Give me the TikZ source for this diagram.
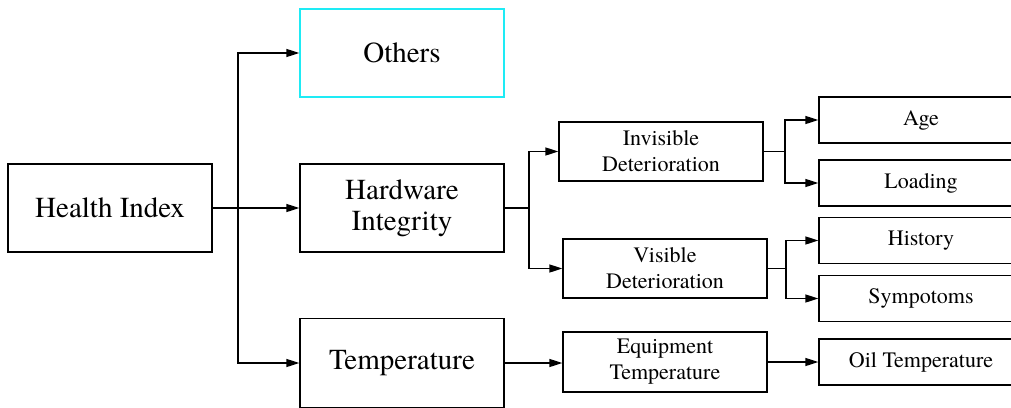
\documentclass[tikz,border=0pt]{standalone}
\usepackage{fontspec}
\setmainfont{texgyretermes}[Extension=.otf, UprightFont=*-regular, BoldFont=*-bold, ItalicFont=*-italic, BoldItalicFont=*-bolditalic]
\usetikzlibrary{arrows.meta}
\definecolor{othercyan}{RGB}{30,235,245}

\begin{document}
\begin{tikzpicture}[x=1pt,y=-1pt,
    box/.style={draw, line width=1.3pt, align=center, inner sep=0pt},
    bigbox/.style={box, minimum width=204pt, minimum height=88pt, font=\fontsize{29}{31}\selectfont},
    midbox/.style={box, minimum width=204pt, minimum height=59pt, font=\fontsize{22}{26}\selectfont},
    leafbox/.style={box, minimum width=204pt, minimum height=46pt, font=\fontsize{22}{26}\selectfont},
    arr/.style={line width=1.3pt, -{Triangle[length=13pt,width=8pt]}},
    ln/.style={line width=1.3pt}]
    \clip (0,0) rectangle (1011,407);
    \node[bigbox] (hi) at (110,208) {Health Index};
    \node[bigbox, draw=othercyan] (others) at (402,53) {Others};
    \node[bigbox] (hw) at (402,208) {Hardware\\Integrity};
    \node[bigbox, minimum height=89pt] (temp) at (402,363) {Temperature};
    \node[midbox] (invis) at (661,151.5) {Invisible\\Deterioration};
    \node[midbox] (vis) at (665,268.5) {Visible\\Deterioration};
    \node[midbox, minimum height=60pt] (equip) at (665,362) {Equipment\\Temperature};
    \node[leafbox] (age) at (921,120) {Age};
    \node[leafbox] (load) at (921,183) {Loading};
    \node[leafbox] (hist) at (921,240.5) {History};
    \node[leafbox] (symp) at (921,298.5) {Sympotoms};
    \node[leafbox] (oil) at (921,362) {Oil Temperature};
    \coordinate (hifork) at (238,208);
    \coordinate (hwfork) at (529,208);
    \coordinate (invfork) at (785,151.5);
    \coordinate (visfork) at (786,268.5);
    \draw[ln] (hi.east) -- (hifork);
    \draw[arr] (hifork) |- (others.west);
    \draw[arr] (hifork) |- (hw.west);
    \draw[arr] (hifork) |- (temp.west);
    \draw[ln] (hw.east) -- (hwfork);
    \draw[arr] (hwfork) |- (invis.west);
    \draw[arr] (hwfork) |- (vis.west);
    \draw[ln] (invis.east) -- (invfork);
    \draw[arr] (invfork) |- (age.west);
    \draw[arr] (invfork) |- (load.west);
    \draw[ln] (vis.east) -- (visfork);
    \draw[arr] (visfork) |- (hist.west);
    \draw[arr] (visfork) |- (symp.west);
    \draw[arr] (temp.east) -- (temp.east -| equip.west);
    \draw[arr] (equip.east) -- (oil.west);
\end{tikzpicture}
\end{document}
